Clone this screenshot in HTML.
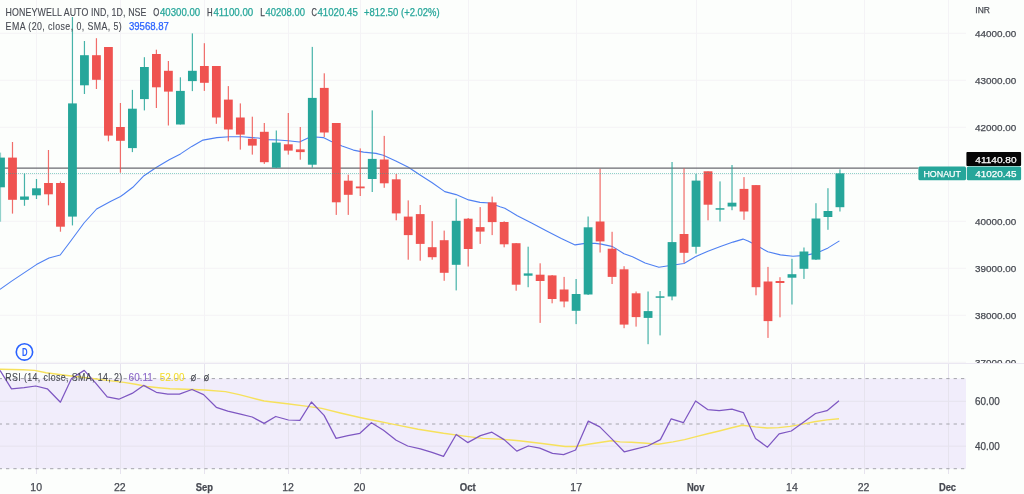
<!DOCTYPE html><html><head><meta charset="utf-8"><style>html,body{margin:0;padding:0;background:#fcfefc;width:1024px;height:494px;overflow:hidden}svg{display:block}text{font-family:'Liberation Sans', Arial, sans-serif}</style></head><body>
<svg width="1024" height="494" viewBox="0 0 1024 494">
<rect width="1024" height="494" fill="#fcfefc"/>
<g stroke="#f4f3f6" stroke-width="1">
<line x1="0" y1="33.3" x2="966" y2="33.3"/>
<line x1="0" y1="80.3" x2="966" y2="80.3"/>
<line x1="0" y1="127.3" x2="966" y2="127.3"/>
<line x1="0" y1="174.3" x2="966" y2="174.3"/>
<line x1="0" y1="221.3" x2="966" y2="221.3"/>
<line x1="0" y1="268.3" x2="966" y2="268.3"/>
<line x1="0" y1="315.3" x2="966" y2="315.3"/>
<line x1="0" y1="362.3" x2="966" y2="362.3"/>
<line x1="36.5" y1="0" x2="36.5" y2="363"/>
<line x1="120.5" y1="0" x2="120.5" y2="363"/>
<line x1="204.5" y1="0" x2="204.5" y2="363"/>
<line x1="288.5" y1="0" x2="288.5" y2="363"/>
<line x1="360.5" y1="0" x2="360.5" y2="363"/>
<line x1="468.5" y1="0" x2="468.5" y2="363"/>
<line x1="576.5" y1="0" x2="576.5" y2="363"/>
<line x1="696.5" y1="0" x2="696.5" y2="363"/>
<line x1="791.5" y1="0" x2="791.5" y2="363"/>
<line x1="864.5" y1="0" x2="864.5" y2="363"/>
<line x1="948.5" y1="0" x2="948.5" y2="363"/>
</g>
<rect x="0" y="378.6" width="966" height="90.09999999999997" fill="#f1edfb"/>
<g stroke="#e6e3ee" stroke-width="1">
<line x1="0" y1="401.3" x2="966" y2="401.3"/>
<line x1="0" y1="446.2" x2="966" y2="446.2"/>
<line x1="36.5" y1="364" x2="36.5" y2="474"/>
<line x1="120.5" y1="364" x2="120.5" y2="474"/>
<line x1="204.5" y1="364" x2="204.5" y2="474"/>
<line x1="288.5" y1="364" x2="288.5" y2="474"/>
<line x1="360.5" y1="364" x2="360.5" y2="474"/>
<line x1="468.5" y1="364" x2="468.5" y2="474"/>
<line x1="576.5" y1="364" x2="576.5" y2="474"/>
<line x1="696.5" y1="364" x2="696.5" y2="474"/>
<line x1="791.5" y1="364" x2="791.5" y2="474"/>
<line x1="864.5" y1="364" x2="864.5" y2="474"/>
<line x1="948.5" y1="364" x2="948.5" y2="474"/>
</g>
<g stroke="#a4a4ac" stroke-width="1" stroke-dasharray="3.3 4.046" stroke-dashoffset="1.346">
<line x1="0" y1="378.6" x2="966" y2="378.6"/>
<line x1="0" y1="424.0" x2="966" y2="424.0"/>
<line x1="0" y1="468.7" x2="966" y2="468.7"/>
</g>
<line x1="0" y1="363.5" x2="1024" y2="363.5" stroke="#ebe8f2" stroke-width="1"/>
<svg x="0" y="0" width="966" height="363" overflow="hidden">
<polyline points="0.0,289.4 11.3,281.4 36.4,264.6 49.0,258.0 60.2,255.0 70.0,242.0 84.0,223.0 96.6,209.0 110.4,201.6 120.5,196.5 124.0,194.0 132.8,187.3 144.0,175.7 156.6,167.2 169.2,159.7 180.5,153.9 191.8,146.4 203.0,140.1 216.9,137.6 229.4,136.8 242.0,136.8 252.0,137.6 258.0,138.0 268.0,139.6 278.0,140.0 288.0,140.8 299.5,142.0 308.0,138.0 315.8,137.0 323.3,137.6 330.8,141.3 342.0,145.9 353.4,150.1 363.5,152.1 376.0,153.4 383.3,155.2 395.8,161.0 408.4,167.3 419.7,174.8 432.2,182.8 444.8,191.6 456.1,194.6 468.6,199.9 480.0,202.4 490.0,203.0 500.0,206.7 504.8,208.2 517.3,215.8 531.1,222.8 546.2,230.8 561.3,238.4 575.1,244.9 585.1,243.4 595.1,243.4 601.4,244.1 612.7,246.6 624.0,253.7 632.5,256.7 645.1,263.0 658.9,267.2 670.2,265.5 684.0,263.5 695.3,256.7 707.9,251.2 720.4,246.6 733.0,242.1 743.0,239.1 748.0,240.9 754.0,244.1 767.8,251.7 780.4,254.9 793.0,256.2 805.5,255.4 816.8,252.9 828.1,247.9 839.4,240.9" fill="none" stroke="#4f80f2" stroke-width="1.1" stroke-linejoin="round"/>
<line x1="0" y1="168.1" x2="918.4" y2="168.1" stroke="#6a6a70" stroke-width="1.2"/>
<rect x="-0.10" y="152.6" width="1.2" height="69.10" fill="#26a69a" opacity="0.5"/>
<rect x="-3.90" y="157.6" width="8.8" height="29.70" fill="#26a69a"/>
<rect x="11.89" y="142.0" width="1.2" height="71.60" fill="#ef5350" opacity="0.85"/>
<rect x="8.09" y="157.6" width="8.8" height="42.20" fill="#ef5350"/>
<rect x="23.88" y="173.5" width="1.2" height="32.30" fill="#26a69a" opacity="0.85"/>
<rect x="20.08" y="196.5" width="8.8" height="3.30" fill="#26a69a"/>
<rect x="35.88" y="179.0" width="1.2" height="20.00" fill="#26a69a" opacity="0.85"/>
<rect x="32.08" y="188.3" width="8.8" height="7.00" fill="#26a69a"/>
<rect x="47.87" y="150.0" width="1.2" height="55.30" fill="#ef5350" opacity="0.85"/>
<rect x="44.07" y="183.0" width="8.8" height="11.30" fill="#ef5350"/>
<rect x="59.86" y="181.5" width="1.2" height="50.20" fill="#ef5350" opacity="0.85"/>
<rect x="56.06" y="183.0" width="8.8" height="43.70" fill="#ef5350"/>
<rect x="71.85" y="17.0" width="1.2" height="208.40" fill="#26a69a" opacity="0.85"/>
<rect x="68.05" y="103.4" width="8.8" height="113.20" fill="#26a69a"/>
<rect x="83.84" y="41.0" width="1.2" height="53.00" fill="#26a69a" opacity="0.85"/>
<rect x="80.04" y="55.2" width="8.8" height="30.10" fill="#26a69a"/>
<rect x="95.84" y="38.2" width="1.2" height="50.80" fill="#ef5350" opacity="0.85"/>
<rect x="92.04" y="55.2" width="8.8" height="24.60" fill="#ef5350"/>
<rect x="107.83" y="47.0" width="1.2" height="94.30" fill="#ef5350" opacity="0.85"/>
<rect x="104.03" y="47.0" width="8.8" height="88.60" fill="#ef5350"/>
<rect x="119.82" y="103.0" width="1.2" height="69.70" fill="#ef5350" opacity="0.85"/>
<rect x="116.02" y="127.0" width="8.8" height="13.80" fill="#ef5350"/>
<rect x="131.81" y="89.9" width="1.2" height="62.20" fill="#26a69a" opacity="0.85"/>
<rect x="128.01" y="108.7" width="8.8" height="39.40" fill="#26a69a"/>
<rect x="143.80" y="57.2" width="1.2" height="53.20" fill="#26a69a" opacity="0.85"/>
<rect x="140.00" y="67.0" width="8.8" height="32.10" fill="#26a69a"/>
<rect x="155.80" y="49.7" width="1.2" height="58.30" fill="#ef5350" opacity="0.85"/>
<rect x="152.00" y="54.0" width="8.8" height="33.30" fill="#ef5350"/>
<rect x="167.79" y="61.0" width="1.2" height="64.50" fill="#ef5350" opacity="0.85"/>
<rect x="163.99" y="70.8" width="8.8" height="20.80" fill="#ef5350"/>
<rect x="179.78" y="77.3" width="1.2" height="47.20" fill="#26a69a" opacity="0.85"/>
<rect x="175.98" y="90.9" width="8.8" height="33.60" fill="#26a69a"/>
<rect x="191.77" y="33.4" width="1.2" height="57.70" fill="#26a69a" opacity="0.85"/>
<rect x="187.97" y="70.8" width="8.8" height="10.30" fill="#26a69a"/>
<rect x="203.76" y="43.2" width="1.2" height="47.70" fill="#ef5350" opacity="0.85"/>
<rect x="199.96" y="66.0" width="8.8" height="16.80" fill="#ef5350"/>
<rect x="215.76" y="66.0" width="1.2" height="57.80" fill="#ef5350" opacity="0.85"/>
<rect x="211.96" y="66.0" width="8.8" height="51.50" fill="#ef5350"/>
<rect x="227.75" y="86.1" width="1.2" height="55.20" fill="#ef5350" opacity="0.85"/>
<rect x="223.95" y="99.6" width="8.8" height="29.90" fill="#ef5350"/>
<rect x="239.74" y="103.4" width="1.2" height="46.20" fill="#ef5350" opacity="0.85"/>
<rect x="235.94" y="117.5" width="8.8" height="17.10" fill="#ef5350"/>
<rect x="251.73" y="116.7" width="1.2" height="37.90" fill="#ef5350" opacity="0.85"/>
<rect x="247.93" y="138.8" width="8.8" height="6.80" fill="#ef5350"/>
<rect x="263.72" y="123.0" width="1.2" height="40.90" fill="#ef5350" opacity="0.85"/>
<rect x="259.92" y="131.8" width="8.8" height="30.40" fill="#ef5350"/>
<rect x="275.72" y="130.5" width="1.2" height="37.50" fill="#26a69a" opacity="0.85"/>
<rect x="271.92" y="142.6" width="8.8" height="25.10" fill="#26a69a"/>
<rect x="287.71" y="113.0" width="1.2" height="41.60" fill="#ef5350" opacity="0.85"/>
<rect x="283.91" y="144.3" width="8.8" height="6.30" fill="#ef5350"/>
<rect x="299.70" y="127.0" width="1.2" height="32.70" fill="#ef5350" opacity="0.85"/>
<rect x="295.90" y="149.4" width="8.8" height="2.70" fill="#ef5350"/>
<rect x="311.69" y="46.9" width="1.2" height="120.80" fill="#26a69a" opacity="0.85"/>
<rect x="307.89" y="97.9" width="8.8" height="66.80" fill="#26a69a"/>
<rect x="323.68" y="73.3" width="1.2" height="63.70" fill="#ef5350" opacity="0.85"/>
<rect x="319.88" y="87.9" width="8.8" height="44.60" fill="#ef5350"/>
<rect x="335.68" y="123.0" width="1.2" height="91.90" fill="#ef5350" opacity="0.85"/>
<rect x="331.88" y="123.0" width="8.8" height="79.30" fill="#ef5350"/>
<rect x="347.67" y="174.7" width="1.2" height="40.20" fill="#ef5350" opacity="0.85"/>
<rect x="343.87" y="180.7" width="8.8" height="14.10" fill="#ef5350"/>
<rect x="359.66" y="148.4" width="1.2" height="47.60" fill="#ef5350" opacity="0.85"/>
<rect x="355.86" y="186.5" width="8.8" height="1.80" fill="#ef5350"/>
<rect x="371.65" y="110.4" width="1.2" height="81.60" fill="#26a69a" opacity="0.85"/>
<rect x="367.85" y="158.9" width="8.8" height="20.10" fill="#26a69a"/>
<rect x="383.64" y="135.9" width="1.2" height="51.90" fill="#ef5350" opacity="0.85"/>
<rect x="379.84" y="159.5" width="8.8" height="23.80" fill="#ef5350"/>
<rect x="395.64" y="174.0" width="1.2" height="46.30" fill="#ef5350" opacity="0.85"/>
<rect x="391.84" y="179.3" width="8.8" height="34.10" fill="#ef5350"/>
<rect x="407.63" y="200.4" width="1.2" height="59.30" fill="#ef5350" opacity="0.85"/>
<rect x="403.83" y="216.6" width="8.8" height="18.50" fill="#ef5350"/>
<rect x="419.62" y="205.0" width="1.2" height="55.70" fill="#ef5350" opacity="0.85"/>
<rect x="415.82" y="214.1" width="8.8" height="29.80" fill="#ef5350"/>
<rect x="431.61" y="221.1" width="1.2" height="38.60" fill="#ef5350" opacity="0.85"/>
<rect x="427.81" y="247.2" width="8.8" height="10.00" fill="#ef5350"/>
<rect x="443.60" y="230.6" width="1.2" height="50.20" fill="#ef5350" opacity="0.85"/>
<rect x="439.80" y="240.2" width="8.8" height="32.60" fill="#ef5350"/>
<rect x="455.60" y="198.6" width="1.2" height="91.80" fill="#26a69a" opacity="0.85"/>
<rect x="451.80" y="220.8" width="8.8" height="44.00" fill="#26a69a"/>
<rect x="467.59" y="218.0" width="1.2" height="48.50" fill="#ef5350" opacity="0.85"/>
<rect x="463.79" y="218.7" width="8.8" height="30.30" fill="#ef5350"/>
<rect x="479.58" y="207.1" width="1.2" height="36.80" fill="#ef5350" opacity="0.85"/>
<rect x="475.78" y="227.1" width="8.8" height="4.50" fill="#ef5350"/>
<rect x="491.57" y="196.6" width="1.2" height="38.50" fill="#ef5350" opacity="0.85"/>
<rect x="487.77" y="202.4" width="8.8" height="19.70" fill="#ef5350"/>
<rect x="503.56" y="221.3" width="1.2" height="26.00" fill="#ef5350" opacity="0.85"/>
<rect x="499.76" y="222.0" width="8.8" height="22.30" fill="#ef5350"/>
<rect x="515.56" y="243.0" width="1.2" height="47.70" fill="#ef5350" opacity="0.85"/>
<rect x="511.76" y="243.2" width="8.8" height="41.50" fill="#ef5350"/>
<rect x="527.55" y="246.7" width="1.2" height="40.50" fill="#26a69a" opacity="0.85"/>
<rect x="523.75" y="273.4" width="8.8" height="2.30" fill="#26a69a"/>
<rect x="539.54" y="263.3" width="1.2" height="59.60" fill="#ef5350" opacity="0.85"/>
<rect x="535.74" y="274.7" width="8.8" height="6.30" fill="#ef5350"/>
<rect x="551.53" y="275.0" width="1.2" height="28.30" fill="#ef5350" opacity="0.85"/>
<rect x="547.73" y="275.4" width="8.8" height="23.60" fill="#ef5350"/>
<rect x="563.52" y="276.9" width="1.2" height="30.40" fill="#ef5350" opacity="0.85"/>
<rect x="559.72" y="289.5" width="8.8" height="12.00" fill="#ef5350"/>
<rect x="575.52" y="279.0" width="1.2" height="45.10" fill="#26a69a" opacity="0.85"/>
<rect x="571.72" y="294.0" width="8.8" height="16.80" fill="#26a69a"/>
<rect x="587.51" y="216.5" width="1.2" height="78.50" fill="#26a69a" opacity="0.85"/>
<rect x="583.71" y="227.3" width="8.8" height="67.20" fill="#26a69a"/>
<rect x="599.50" y="168.8" width="1.2" height="83.70" fill="#ef5350" opacity="0.85"/>
<rect x="595.70" y="221.5" width="8.8" height="19.90" fill="#ef5350"/>
<rect x="611.49" y="231.8" width="1.2" height="52.20" fill="#ef5350" opacity="0.85"/>
<rect x="607.69" y="248.7" width="8.8" height="28.20" fill="#ef5350"/>
<rect x="623.48" y="266.2" width="1.2" height="62.00" fill="#ef5350" opacity="0.85"/>
<rect x="619.68" y="269.3" width="8.8" height="55.30" fill="#ef5350"/>
<rect x="635.48" y="291.5" width="1.2" height="35.10" fill="#ef5350" opacity="0.85"/>
<rect x="631.68" y="293.3" width="8.8" height="23.80" fill="#ef5350"/>
<rect x="647.47" y="291.5" width="1.2" height="52.70" fill="#26a69a" opacity="0.85"/>
<rect x="643.67" y="311.1" width="8.8" height="6.80" fill="#26a69a"/>
<rect x="659.46" y="291.0" width="1.2" height="44.40" fill="#26a69a" opacity="0.85"/>
<rect x="655.66" y="296.3" width="8.8" height="1.50" fill="#26a69a"/>
<rect x="671.45" y="162.0" width="1.2" height="138.30" fill="#26a69a" opacity="0.85"/>
<rect x="667.65" y="242.1" width="8.8" height="54.40" fill="#26a69a"/>
<rect x="683.44" y="168.3" width="1.2" height="94.50" fill="#ef5350" opacity="0.85"/>
<rect x="679.64" y="234.0" width="8.8" height="18.80" fill="#ef5350"/>
<rect x="695.44" y="173.8" width="1.2" height="79.80" fill="#26a69a" opacity="0.85"/>
<rect x="691.64" y="180.6" width="8.8" height="66.20" fill="#26a69a"/>
<rect x="707.43" y="171.3" width="1.2" height="49.00" fill="#ef5350" opacity="0.85"/>
<rect x="703.63" y="171.3" width="8.8" height="33.40" fill="#ef5350"/>
<rect x="719.42" y="181.4" width="1.2" height="40.10" fill="#26a69a" opacity="0.85"/>
<rect x="715.62" y="208.2" width="8.8" height="1.50" fill="#26a69a"/>
<rect x="731.41" y="165.0" width="1.2" height="45.20" fill="#26a69a" opacity="0.85"/>
<rect x="727.61" y="202.7" width="8.8" height="3.80" fill="#26a69a"/>
<rect x="743.40" y="177.1" width="1.2" height="42.70" fill="#ef5350" opacity="0.85"/>
<rect x="739.60" y="188.9" width="8.8" height="22.60" fill="#ef5350"/>
<rect x="755.40" y="185.0" width="1.2" height="110.30" fill="#ef5350" opacity="0.85"/>
<rect x="751.60" y="185.1" width="8.8" height="102.10" fill="#ef5350"/>
<rect x="767.39" y="266.9" width="1.2" height="71.00" fill="#ef5350" opacity="0.85"/>
<rect x="763.59" y="281.5" width="8.8" height="39.60" fill="#ef5350"/>
<rect x="779.38" y="277.2" width="1.2" height="40.10" fill="#ef5350" opacity="0.85"/>
<rect x="775.58" y="281.0" width="8.8" height="2.00" fill="#ef5350"/>
<rect x="791.37" y="258.8" width="1.2" height="45.70" fill="#26a69a" opacity="0.85"/>
<rect x="787.57" y="274.2" width="8.8" height="3.50" fill="#26a69a"/>
<rect x="803.36" y="247.5" width="1.2" height="31.40" fill="#26a69a" opacity="0.85"/>
<rect x="799.56" y="251.5" width="8.8" height="17.30" fill="#26a69a"/>
<rect x="815.36" y="203.2" width="1.2" height="56.80" fill="#26a69a" opacity="0.85"/>
<rect x="811.56" y="218.5" width="8.8" height="41.10" fill="#26a69a"/>
<rect x="827.35" y="188.2" width="1.2" height="41.60" fill="#26a69a" opacity="0.85"/>
<rect x="823.55" y="211.0" width="8.8" height="6.00" fill="#26a69a"/>
<rect x="839.34" y="169.4" width="1.2" height="42.10" fill="#26a69a" opacity="0.85"/>
<rect x="835.54" y="173.35" width="8.8" height="33.85" fill="#26a69a"/>
<line x1="0" y1="173.45" x2="918.4" y2="173.45" stroke="#26a69a" stroke-width="0.9" stroke-dasharray="1 1" opacity="0.6"/>
</svg>
<svg x="0" y="363.5" width="966" height="111" overflow="hidden"><g transform="translate(0,-363.5)">
<polyline points="0.0,369.2 23.0,369.7 34.6,370.4 46.0,372.7 69.2,375.7 92.2,378.5 115.3,381.4 124.0,382.4 135.5,384.2 147.0,386.5 158.6,387.7 170.1,388.8 193.2,389.5 204.7,390.0 225.5,391.6 239.3,394.6 248.0,396.9 264.1,401.0 287.2,403.8 305.7,406.1 321.8,408.4 340.3,413.0 361.0,417.7 372.0,420.0 395.1,424.6 418.1,429.2 443.5,433.3 464.3,436.1 482.7,438.4 500.0,439.1 519.1,440.7 542.1,443.5 565.2,446.5 575.6,446.5 588.3,444.2 611.3,440.7 620.0,441.9 631.5,442.3 643.1,443.0 658.1,444.2 673.0,441.9 684.6,439.6 696.1,436.6 707.6,433.8 719.2,431.0 730.7,428.0 742.2,425.3 755.5,426.9 767.0,428.0 778.6,427.6 790.1,426.4 802.8,424.1 814.3,421.8 827.0,419.9 839.0,418.8" fill="none" stroke="#f6e15c" stroke-width="1.4" stroke-linejoin="round"/>
<polyline points="0.0,370.4 11.5,388.8 24.2,387.7 35.7,386.0 47.3,388.8 60.4,402.2 71.5,378.5 84.2,370.4 95.7,383.1 107.2,396.9 118.8,399.2 132.1,393.4 143.6,385.4 156.3,392.3 167.8,394.1 179.4,394.1 192.0,389.5 203.6,394.6 216.3,407.3 227.8,411.2 240.5,414.2 252.2,417.0 264.1,423.4 275.7,416.5 288.4,420.0 299.9,420.4 311.4,402.0 324.1,415.4 336.1,438.4 347.9,435.6 359.9,433.3 371.4,422.7 383.5,430.3 396.2,440.3 407.7,446.0 420.4,448.8 432.0,452.3 443.5,456.4 456.2,434.5 467.7,442.6 480.4,435.6 491.9,432.2 504.1,439.6 516.8,451.1 528.3,446.0 539.8,448.1 552.5,453.4 563.6,454.6 575.6,450.0 588.3,421.1 599.8,426.9 611.3,438.4 624.2,451.8 636.1,448.8 647.7,446.0 660.4,439.6 671.2,418.8 683.4,422.7 695.6,401.0 707.6,409.6 719.2,410.7 731.9,409.1 743.4,412.6 755.5,438.4 767.5,447.2 779.1,433.8 791.3,431.0 803.5,422.3 815.5,413.5 827.0,410.7 839.0,400.8" fill="none" stroke="#7e57c2" stroke-width="1.25" stroke-linejoin="round"/>
</g></svg>
<text x="975.3" y="13.4" font-size="9.6" fill="#474a52" text-anchor="start" font-weight="normal" textLength="14.6" lengthAdjust="spacingAndGlyphs" stroke="#474a52" stroke-width="0.25">INR</text>
<text x="975" y="36.9" font-size="9.6" fill="#474a52" text-anchor="start" font-weight="normal" textLength="41.2" lengthAdjust="spacingAndGlyphs" stroke="#474a52" stroke-width="0.25">44000.00</text>
<text x="975" y="83.89999999999999" font-size="9.6" fill="#474a52" text-anchor="start" font-weight="normal" textLength="41.2" lengthAdjust="spacingAndGlyphs" stroke="#474a52" stroke-width="0.25">43000.00</text>
<text x="975" y="130.9" font-size="9.6" fill="#474a52" text-anchor="start" font-weight="normal" textLength="41.2" lengthAdjust="spacingAndGlyphs" stroke="#474a52" stroke-width="0.25">42000.00</text>
<text x="975" y="177.9" font-size="9.6" fill="#474a52" text-anchor="start" font-weight="normal" textLength="41.2" lengthAdjust="spacingAndGlyphs" stroke="#474a52" stroke-width="0.25">41000.00</text>
<text x="975" y="224.9" font-size="9.6" fill="#474a52" text-anchor="start" font-weight="normal" textLength="41.2" lengthAdjust="spacingAndGlyphs" stroke="#474a52" stroke-width="0.25">40000.00</text>
<text x="975" y="271.90000000000003" font-size="9.6" fill="#474a52" text-anchor="start" font-weight="normal" textLength="41.2" lengthAdjust="spacingAndGlyphs" stroke="#474a52" stroke-width="0.25">39000.00</text>
<text x="975" y="318.90000000000003" font-size="9.6" fill="#474a52" text-anchor="start" font-weight="normal" textLength="41.2" lengthAdjust="spacingAndGlyphs" stroke="#474a52" stroke-width="0.25">38000.00</text>
<svg x="966" y="0" width="58" height="363" overflow="hidden"><text x="9" y="365.90000000000003" font-size="9.6" fill="#474a52" text-anchor="start" font-weight="normal" textLength="41.2" lengthAdjust="spacingAndGlyphs" stroke="#474a52" stroke-width="0.25">37000.00</text></svg>
<text x="975" y="404.90000000000003" font-size="10" fill="#474a52" text-anchor="start" font-weight="normal" textLength="24.7" lengthAdjust="spacingAndGlyphs" stroke="#474a52" stroke-width="0.25">60.00</text>
<text x="975" y="449.8" font-size="10" fill="#474a52" text-anchor="start" font-weight="normal" textLength="24.7" lengthAdjust="spacingAndGlyphs" stroke="#474a52" stroke-width="0.25">40.00</text>
<rect x="966.4" y="152.1" width="54.7" height="13.9" rx="1" fill="#050505"/>
<text x="1016.5" y="162.6" font-size="9.7" fill="#ffffff" text-anchor="end" font-weight="normal" textLength="41.2" lengthAdjust="spacingAndGlyphs" stroke="#ffffff" stroke-width="0.25">41140.80</text>
<rect x="918.4" y="166.4" width="47.6" height="13.8" rx="1.5" fill="#26a69a"/>
<rect x="966.8" y="166.4" width="54.3" height="13.8" rx="1.5" fill="#26a69a"/>
<text x="942.2" y="177.0" font-size="9.9" fill="#ffffff" text-anchor="middle" font-weight="normal" textLength="37.5" lengthAdjust="spacingAndGlyphs" stroke="#ffffff" stroke-width="0.25">HONAUT</text>
<text x="1016.5" y="177.0" font-size="9.7" fill="#ffffff" text-anchor="end" font-weight="normal" textLength="41.2" lengthAdjust="spacingAndGlyphs" stroke="#ffffff" stroke-width="0.25">41020.45</text>
<text x="36.2" y="490.8" font-size="10.5" fill="#474a52" text-anchor="middle" font-weight="normal" stroke="#474a52" stroke-width="0.25">10</text>
<text x="119.8" y="490.8" font-size="10.5" fill="#474a52" text-anchor="middle" font-weight="normal" stroke="#474a52" stroke-width="0.25">22</text>
<text x="204.4" y="490.8" font-size="10.5" fill="#474a52" text-anchor="middle" font-weight="bold" textLength="17.2" lengthAdjust="spacingAndGlyphs" stroke="#474a52" stroke-width="0.25">Sep</text>
<text x="288.0" y="490.8" font-size="10.5" fill="#474a52" text-anchor="middle" font-weight="normal" stroke="#474a52" stroke-width="0.25">12</text>
<text x="359.6" y="490.8" font-size="10.5" fill="#474a52" text-anchor="middle" font-weight="normal" stroke="#474a52" stroke-width="0.25">20</text>
<text x="467.8" y="490.8" font-size="10.5" fill="#474a52" text-anchor="middle" font-weight="bold" textLength="16.0" lengthAdjust="spacingAndGlyphs" stroke="#474a52" stroke-width="0.25">Oct</text>
<text x="576.2" y="490.8" font-size="10.5" fill="#474a52" text-anchor="middle" font-weight="normal" stroke="#474a52" stroke-width="0.25">17</text>
<text x="695.7" y="490.8" font-size="10.5" fill="#474a52" text-anchor="middle" font-weight="bold" textLength="17.6" lengthAdjust="spacingAndGlyphs" stroke="#474a52" stroke-width="0.25">Nov</text>
<text x="791.9" y="490.8" font-size="10.5" fill="#474a52" text-anchor="middle" font-weight="normal" stroke="#474a52" stroke-width="0.25">14</text>
<text x="863.6" y="490.8" font-size="10.5" fill="#474a52" text-anchor="middle" font-weight="normal" stroke="#474a52" stroke-width="0.25">22</text>
<text x="947.5" y="490.8" font-size="10.5" fill="#474a52" text-anchor="middle" font-weight="bold" textLength="17.2" lengthAdjust="spacingAndGlyphs" stroke="#474a52" stroke-width="0.25">Dec</text>
<text transform="translate(5.6,15.8) scale(0.84,1)" x="0" y="0" font-size="10.5" fill="#474a52" font-weight="normal" textLength="167.74" lengthAdjust="spacing" stroke="#474a52" stroke-width="0.12">HONEYWELL AUTO IND, 1D, NSE</text>
<text x="153.3" y="15.8" font-size="10.5" fill="#474a52" text-anchor="start" font-weight="normal" textLength="6.0" lengthAdjust="spacingAndGlyphs" stroke="#474a52" stroke-width="0.25">O</text><text x="160" y="15.8" font-size="10.5" fill="#26a69a" text-anchor="start" font-weight="normal" textLength="40.2" lengthAdjust="spacingAndGlyphs" stroke="#26a69a" stroke-width="0.25">40300.00</text>
<text x="206.9" y="15.8" font-size="10.5" fill="#474a52" text-anchor="start" font-weight="normal" textLength="5.6" lengthAdjust="spacingAndGlyphs" stroke="#474a52" stroke-width="0.25">H</text><text x="213.4" y="15.8" font-size="10.5" fill="#26a69a" text-anchor="start" font-weight="normal" textLength="39.9" lengthAdjust="spacingAndGlyphs" stroke="#26a69a" stroke-width="0.25">41100.00</text>
<text x="260.2" y="15.8" font-size="10.5" fill="#474a52" text-anchor="start" font-weight="normal" textLength="4.6" lengthAdjust="spacingAndGlyphs" stroke="#474a52" stroke-width="0.25">L</text><text x="265.6" y="15.8" font-size="10.5" fill="#26a69a" text-anchor="start" font-weight="normal" textLength="39.4" lengthAdjust="spacingAndGlyphs" stroke="#26a69a" stroke-width="0.25">40208.00</text>
<text x="311.4" y="15.8" font-size="10.5" fill="#474a52" text-anchor="start" font-weight="normal" textLength="5.4" lengthAdjust="spacingAndGlyphs" stroke="#474a52" stroke-width="0.25">C</text><text x="317.5" y="15.8" font-size="10.5" fill="#26a69a" text-anchor="start" font-weight="normal" textLength="40.3" lengthAdjust="spacingAndGlyphs" stroke="#26a69a" stroke-width="0.25">41020.45</text>
<text x="363.9" y="15.8" font-size="10.5" fill="#26a69a" text-anchor="start" font-weight="normal" textLength="75.8" lengthAdjust="spacingAndGlyphs" stroke="#26a69a" stroke-width="0.25">+812.50 (+2.02%)</text>
<text transform="translate(5.6,30.0) scale(0.84,1)" x="0" y="0" font-size="10.5" fill="#474a52" font-weight="normal" textLength="138.33" lengthAdjust="spacing" stroke="#474a52" stroke-width="0.12">EMA (20, close, 0, SMA, 5)</text>
<text x="128.9" y="30.0" font-size="10.5" fill="#2962ff" text-anchor="start" font-weight="normal" textLength="40" lengthAdjust="spacingAndGlyphs" stroke="#2962ff" stroke-width="0.25">39568.87</text>
<text transform="translate(5.2,381.0) scale(0.84,1)" x="0" y="0" font-size="10.5" fill="#474a52" font-weight="normal" textLength="139.29" lengthAdjust="spacing" stroke="#474a52" stroke-width="0.12">RSI (14, close, SMA, 14, 2)</text>
<text x="128.6" y="381.0" font-size="10.5" fill="#8a66c8" text-anchor="start" font-weight="normal" textLength="24.2" lengthAdjust="spacingAndGlyphs" stroke="#8a66c8" stroke-width="0.1">60.11</text>
<text x="159.7" y="381.0" font-size="10.5" fill="#f4dc2e" text-anchor="start" font-weight="normal" textLength="24.7" lengthAdjust="spacingAndGlyphs" stroke="#f4dc2e" stroke-width="0.1">52.00</text>
<text x="190.8" y="380.6" font-size="8.5" fill="#474a52" text-anchor="start" font-weight="normal" textLength="5.3" lengthAdjust="spacingAndGlyphs" stroke="#474a52" stroke-width="0.25">Ø</text>
<text x="203.7" y="380.6" font-size="8.5" fill="#474a52" text-anchor="start" font-weight="normal" textLength="5.3" lengthAdjust="spacingAndGlyphs" stroke="#474a52" stroke-width="0.25">Ø</text>
<circle cx="24.45" cy="351.9" r="8.2" fill="#fcfefc" stroke="#2962ff" stroke-width="1.6"/>
<text x="24.7" y="355.7" font-size="10.6" fill="#2962ff" text-anchor="middle" font-weight="bold" textLength="5.6" lengthAdjust="spacingAndGlyphs">D</text>
</svg></body></html>
